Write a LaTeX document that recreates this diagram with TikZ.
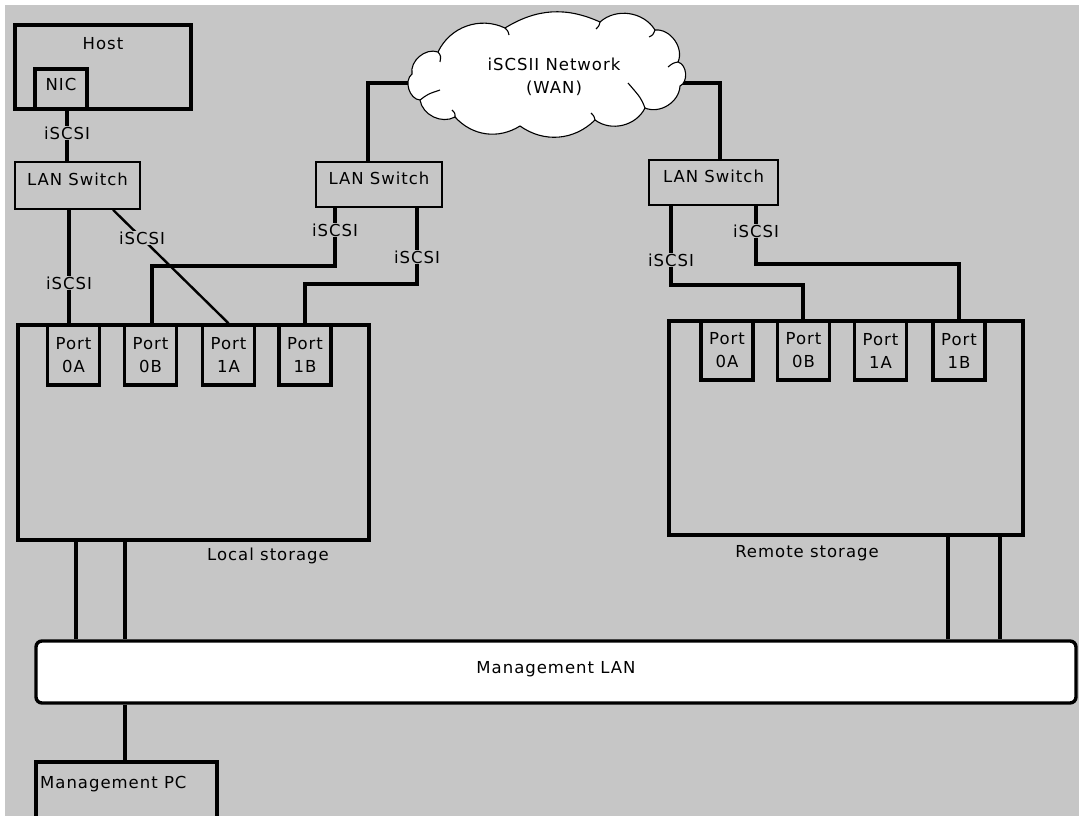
\documentclass[tikz,border=0pt]{standalone}
\usepackage{fontspec}
\setmainfont{DejaVu Sans}[LetterSpace=6]
\usetikzlibrary{calc}
\definecolor{bggray}{HTML}{C6C6C6}
\pgfdeclarelayer{paper}
\pgfdeclarelayer{background}
\pgfsetlayers{paper,background,main}
\begin{document}
\begin{tikzpicture}[x=1pt,y=-1pt,
  every node/.style={font=\fontsize{16.5}{23}\selectfont, text=black},
  thickbox/.style={draw, line width=3.4pt, inner sep=0pt},
  switchbox/.style={draw, line width=1.6pt, inner sep=0pt, text depth=12pt},
  portbox/.style={thickbox, minimum width=52pt, minimum height=60pt, align=center},
  wire/.style={line width=3.4pt},
  tag/.style={fill=bggray, inner sep=1pt},
  plain/.style={inner sep=0pt},
  curl/.style={line width=1.1pt}]
\useasboundingbox (0,0) rectangle (1079,816);
\clip (0,0) rectangle (1079,816);
\begin{pgfonlayer}{paper}
  \fill[white] (0,0) rectangle (1079,816);
  \fill[bggray] (5,5) rectangle (1079,816);
\end{pgfonlayer}

% Host with its NIC
\node[thickbox, minimum width=176pt, minimum height=84pt] (host) at (103,67) {};
\node[plain] (hosttext) at (103,44) {Host};
\node[thickbox, minimum width=52pt, minimum height=40pt] (nic) at (61,89) {};
\node[plain] (nictext) at (61,84) {NIC};

% LAN switches
\node[switchbox, minimum width=125pt, minimum height=47pt] (sw1) at (77.5,185.5) {LAN Switch};
\node[switchbox, minimum width=126pt, minimum height=45pt] (sw2) at (379,184.5) {LAN Switch};
\node[switchbox, minimum width=129pt, minimum height=45pt] (sw3) at (713.5,182.5) {LAN Switch};

% WAN cloud, drawn puff by puff
\draw[line width=1.1pt, fill=white]
  (412,74) to[bend left=60] (438,52) to[bend left=45] (505,28)
  to[bend left=28] (600,22) to[bend left=50] (655,30)
  to[bend left=60] (678,62) to[bend left=70] (680,86)
  to[bend left=55] (645,108) to[bend left=50] (595,120)
  to[bend left=40] (520,126) to[bend left=40] (455,117)
  to[bend left=55] (420,100) to[bend left=70] (412,74) -- cycle;
\draw[curl] (438,52) .. controls (441,56) .. (440,62);
\draw[curl] (505,28) .. controls (508,31) .. (509,35);
\draw[curl] (600,22) .. controls (599,26) .. (596,29);
\draw[curl] (655,30) .. controls (653,35) .. (649,37);
\draw[curl] (678,62) .. controls (673,63) .. (668,67);
\draw[curl] (645,108) .. controls (641,98) .. (628,83);
\draw[curl] (595,120) .. controls (594,116) .. (591,113);
\draw[curl] (455,117) .. controls (455,113) .. (452,110);
\draw[curl] (420,100) .. controls (428,94) .. (440,90);
\node[plain, align=center] (wantext) at (554,77) {iSCSII Network\\(WAN)};
\coordinate (wanL) at (424,83);
\coordinate (wanR) at (670,83);

% Local storage and its ports
\node[thickbox, minimum width=351pt, minimum height=215pt] (local) at (193.5,432.5) {};
\node[portbox] (l0a) at (73.5,355) {Port\\0A};
\node[portbox] (l0b) at (150.5,355) {Port\\0B};
\node[portbox] (l1a) at (228.5,355) {Port\\1A};
\node[portbox] (l1b) at (305,355) {Port\\1B};
\node[plain] (localtext) at (268,556) {Local storage};

% Remote storage and its ports
\node[thickbox, minimum width=354pt, minimum height=214pt] (remote) at (846,428) {};
\node[portbox, minimum height=59pt] (r0a) at (727,350.5) {Port\\0A};
\node[portbox, minimum height=59pt] (r0b) at (803.5,350.5) {Port\\0B};
\node[portbox, minimum height=59pt] (r1a) at (880.5,350.5) {Port\\1A};
\node[portbox, minimum height=59pt] (r1b) at (959,350.5) {Port\\1B};
\node[plain] (remotetext) at (807,553) {Remote storage};

% Management network
\node[thickbox, fill=white, rounded corners=6pt, minimum width=1040pt,
      minimum height=62pt, text depth=10pt] (mlan) at (556,672) {Management LAN};
\node[thickbox, minimum width=181pt, minimum height=68pt] (pc) at (126.5,796) {};
\node[plain, anchor=west] (pctext) at (40,784) {Management PC};

% Connections
\begin{pgfonlayer}{background}
  \draw[wire] (nic.south -| 67,0) -- (sw1.north -| 67,0);
  \draw[wire] (sw1.south -| 69,0) -- (l0a.north -| 69,0);
  \draw[line width=2.4pt] (sw1.south -| 113,0) -- (l1a.north);
  \draw[wire] (l0b.north -| 152,0) |- (335,266) -- (sw2.south -| 335,0);
  \draw[wire] (l1b.north) |- (417,284) -- (sw2.south -| 417,0);
  \draw[wire] (sw2.north -| 368,0) |- (wanL);
  \draw[wire] (wanR) -| (sw3.north -| 720,0);
  \draw[wire] (sw3.south -| 671,0) |- (803,285) -- (r0b.north -| 803,0);
  \draw[wire] (sw3.south -| 756,0) |- (959,264) -- (r1b.north);
  \draw[wire] (local.south -| 76,0) -- (mlan.north -| 76,0);
  \draw[wire] (local.south -| 125,0) -- (mlan.north -| 125,0);
  \draw[wire] (remote.south -| 948,0) -- (mlan.north -| 948,0);
  \draw[wire] (remote.south -| 1000,0) -- (mlan.north -| 1000,0);
  \draw[wire] (mlan.south -| 125,0) -- (pc.north -| 125,0);
\end{pgfonlayer}

% Link labels
\node[tag] (t1) at (67,133) {iSCSI};
\node[tag] (t2) at (69,283) {iSCSI};
\node[tag] (t3) at (142,238) {iSCSI};
\node[tag] (t4) at (335,230) {iSCSI};
\node[tag] (t5) at (417,257) {iSCSI};
\node[tag] (t6) at (671,260) {iSCSI};
\node[tag] (t7) at (756,231) {iSCSI};
\end{tikzpicture}
\end{document}
